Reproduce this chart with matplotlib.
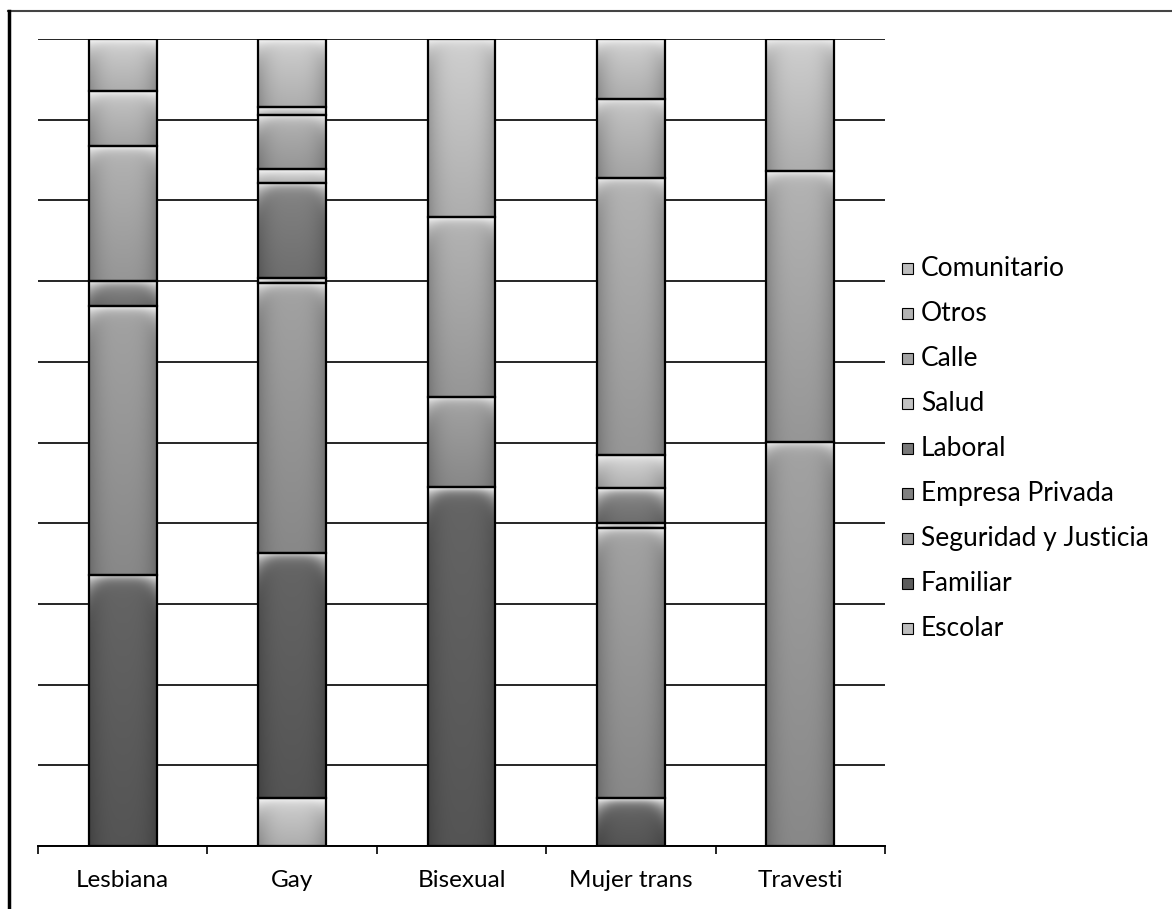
import numpy as np
import matplotlib
matplotlib.use("Agg")
import matplotlib.pyplot as plt
from matplotlib.patches import Rectangle
from matplotlib.lines import Line2D

# porcentaje de casos por ámbito de discriminación y grupo
categorias = ["Lesbiana", "Gay", "Bisexual", "Mujer trans", "Travesti"]
ambitos = ["Escolar", "Familiar", "Seguridad y Justicia", "Empresa Privada",
           "Laboral", "Salud", "Calle", "Otros", "Comunitario"]

escolar = [0, 5.9, 0, 0, 0]
familiar = [33.6, 30.4, 44.5, 5.9, 0]
seguridad = [33.2, 33.5, 11.2, 33.5, 50.1]
empresa = [0, 0.6, 0, 0.6, 0]
laboral = [3.2, 11.8, 0, 4.3, 0]
salud = [0, 1.7, 0, 4.1, 0]
calle = [16.7, 6.7, 22.3, 34.3, 33.5]
otros = [6.8, 1.0, 0, 9.8, 0]
comunitario = [6.4, 8.4, 22.1, 7.4, 16.4]

grises = [0.74, 0.36, 0.58, 0.50, 0.47, 0.76, 0.64, 0.70, 0.74]

plt.rcParams['font.family'] = ['Lato', 'DejaVu Sans']

W, H = 1172, 909
fig = plt.figure(figsize=(W / 100, H / 100), dpi=100)
ax = fig.add_axes([38 / W, 1 - 846 / H, (885 - 38) / W, (846 - 39) / H])

valores = np.array([escolar, familiar, seguridad, empresa, laboral,
                    salud, calle, otros, comunitario], dtype=float)
valores = valores / valores.sum(axis=0) * 100  # columnas al 100 %

x = np.arange(len(categorias))
ancho = 0.4
px_por_unidad = (846 - 39) / 100.0


def sombrear(patch, gris):
    x0, y0 = patch.get_x(), patch.get_y()
    w, h = patch.get_width(), patch.get_height()
    nx = 80
    ny = max(int(h * px_por_unidad), 3)
    u = np.linspace(0, 1, nx)
    t = np.linspace(0, 1, ny)[:, None]
    lado = 1 - 0.22 * np.abs(2 * u - 1) ** 3
    cuerpo = gris * (1.10 - 0.18 * t) * lado
    dist = t * h * px_por_unidad
    curva = 1 + 2.5 * np.abs(2 * u - 1) ** 4
    brillo = np.exp(-dist / (4.0 * curva))
    val = np.clip(cuerpo * (1 - brillo) + 0.97 * brillo, 0, 1)
    img = np.dstack([val, val, val])
    im = ax.imshow(img, extent=(x0, x0 + w, y0, y0 + h), origin='upper',
                   aspect='auto', interpolation='bilinear', zorder=2)
    im.set_clip_path(patch)


base = np.zeros(len(categorias))
for serie, gris, fila in zip(ambitos, grises, valores):
    barras = ax.bar(x, fila, width=ancho, bottom=base, color=str(gris),
                    edgecolor='black', linewidth=1.6, zorder=3, label=serie)
    for p, v in zip(barras.patches, fila):
        if v <= 0:
            p.set_visible(False)
            continue
        sombrear(p, gris)
        p.set_facecolor('none')
    base += fila

ax.set_xlim(-0.5, len(categorias) - 0.5)
ax.set_ylim(0, 100)

ax.set_yticks(np.arange(0, 101, 10))
ax.yaxis.grid(True, color='black', linewidth=1.2)
ax.set_axisbelow(True)
ax.tick_params(axis='y', length=0, labelleft=False)

ax.set_xticks(np.arange(-0.5, len(categorias), 1.0))
ax.set_xticklabels([])
ax.set_xticks(x, minor=True)
ax.set_xticklabels(categorias, minor=True, fontsize=17.5)
ax.tick_params(axis='x', which='major', direction='out', length=6, width=1.2)
ax.tick_params(axis='x', which='minor', length=0, pad=17)

for lado in ['top', 'right', 'left']:
    ax.spines[lado].set_visible(False)
ax.spines['bottom'].set_linewidth(1.4)

# leyenda en orden inverso al apilado
y0_ley, paso = 268, 45.1
for i, (serie, gris) in enumerate(zip(ambitos[::-1], grises[::-1])):
    yc = y0_ley + i * paso
    fig.add_artist(Rectangle((902 / W, 1 - (yc + 5.5) / H), 11 / W, 11 / H,
                             transform=fig.transFigure, facecolor=str(gris),
                             edgecolor='black', linewidth=0.8))
    fig.text(921 / W, 1 - yc / H, serie, fontsize=19, va='center', ha='left')

# marco exterior
fig.add_artist(Line2D([8 / W, 1], [1 - 11 / H] * 2, color='#444444', linewidth=1.5))
fig.add_artist(Line2D([9 / W] * 2, [0, 1 - 11 / H], color='black', linewidth=2.5))

fig.savefig("out.png", dpi=100)
